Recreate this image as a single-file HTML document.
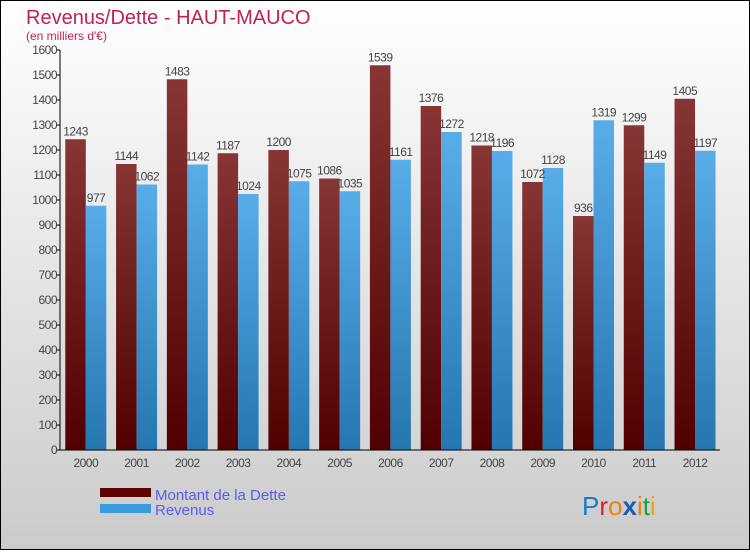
<!DOCTYPE html>
<html><head><meta charset="utf-8"><style>
html,body{margin:0;padding:0}
body{width:750px;height:550px;overflow:hidden;font-family:"Liberation Sans",sans-serif}
svg text{font-family:"Liberation Sans",sans-serif}
</style></head><body>
<svg width="750" height="550" viewBox="0 0 750 550">
<defs>
<linearGradient id="bg" x1="0" y1="0" x2="0" y2="1"><stop offset="0" stop-color="#ffffff"/><stop offset="1" stop-color="#cbcbcb"/></linearGradient>
<linearGradient id="gr" x1="0" y1="0" x2="0" y2="1"><stop offset="0" stop-color="#873535"/><stop offset="1" stop-color="#500000"/></linearGradient>
<linearGradient id="gb" x1="0" y1="0" x2="0" y2="1"><stop offset="0" stop-color="#58ade8"/><stop offset="1" stop-color="#2676b0"/></linearGradient>
</defs>
<rect x="0.5" y="0.5" width="749" height="549" fill="url(#bg)" stroke="#000"/>
<text x="26" y="24" font-size="20" fill="#c0205a">Revenus/Dette - HAUT-MAUCO</text>
<text x="26" y="40" font-size="12" fill="#c0205a">(en milliers d'€)</text>
<g id="yaxis"></g><g id="bars"></g><g id="xaxis"></g>
<line x1="60" y1="50" x2="60" y2="450" stroke="#000"/>
<line x1="60" y1="450" x2="720" y2="450" stroke="#000"/>
<rect x="100" y="488" width="51" height="9" fill="#600000"/>
<text x="155" y="500" font-size="15" fill="#5a5aee">Montant de la Dette</text>
<rect x="100" y="504" width="51" height="9" fill="#3a9ae0"/>
<text x="155" y="515" font-size="15" fill="#5a5aee">Revenus</text>
<g font-size="26">
<text x="582" y="515" fill="#1a7ac8">P<tspan fill="#e02020">r</tspan><tspan fill="#f08010">o</tspan><tspan fill="#1a5ab0" font-weight="bold">x</tspan><tspan fill="#f08010">i</tspan><tspan fill="#20a040">t</tspan><tspan fill="#f0a010">i</tspan></text>
</g>
</svg>
<script>
const years=["2000","2001","2002","2003","2004","2005","2006","2007","2008","2009","2010","2011","2012"];
const dette=[1243,1144,1483,1187,1200,1086,1539,1376,1218,1072,936,1299,1405];
const revenus=[977,1062,1142,1024,1075,1035,1161,1272,1196,1128,1319,1149,1197];
const yTicks=[0,100,200,300,400,500,600,700,800,900,1000,1100,1200,1300,1400,1500,1600];
const NS="http://www.w3.org/2000/svg";
const x0=60,x1=720,y0=450,y1=50,yMax=1600;
const gw=(x1-x0)/years.length;
function y(v){return y0-(v/yMax)*(y0-y1);}
function mk(t,a,p){const e=document.createElementNS(NS,t);for(const k in a)e.setAttribute(k,a[k]);p.appendChild(e);return e;}
const ya=document.getElementById('yaxis'),bg=document.getElementById('bars'),xa=document.getElementById('xaxis');
yTicks.forEach(v=>{
 const l=mk('line',{x1:x0-4,x2:x0,y1:y(v),y2:y(v),stroke:'#000'},ya);
 
 
 const t=mk('text',{x:x0-3,y:y(v)+4,'text-anchor':'end','font-size':12,fill:'#444','letter-spacing':'-0.5'},ya);
 t.textContent=v;
 
 
});
years.forEach((yr,i)=>{
 const gx=x0+i*gw, bw=20.5, bx=gx+5.3;
 const r=mk('rect',{x:bx,y:y(dette[i]),width:bw,height:y0-y(dette[i]),fill:'url(#gr)'},bg);
 
 
 const b=mk('rect',{x:bx+bw,y:y(revenus[i]),width:bw,height:y0-y(revenus[i]),fill:'url(#gb)'},bg);
 
 
 const t1=mk('text',{x:bx+bw/2,y:y(dette[i])-4,'text-anchor':'middle','font-size':12,fill:'#444','letter-spacing':'-0.5'},bg);
 t1.textContent=dette[i];
 
 
 const t2=mk('text',{x:bx+bw*1.5,y:y(revenus[i])-4,'text-anchor':'middle','font-size':12,fill:'#444','letter-spacing':'-0.5'},bg);
 t2.textContent=revenus[i];
 
 
 const xl=mk('text',{x:bx+bw,y:467,'text-anchor':'middle','font-size':12,fill:'#444','letter-spacing':'-0.5'},xa);
 xl.textContent=yr;
 
 
});
</script>
</body></html>
